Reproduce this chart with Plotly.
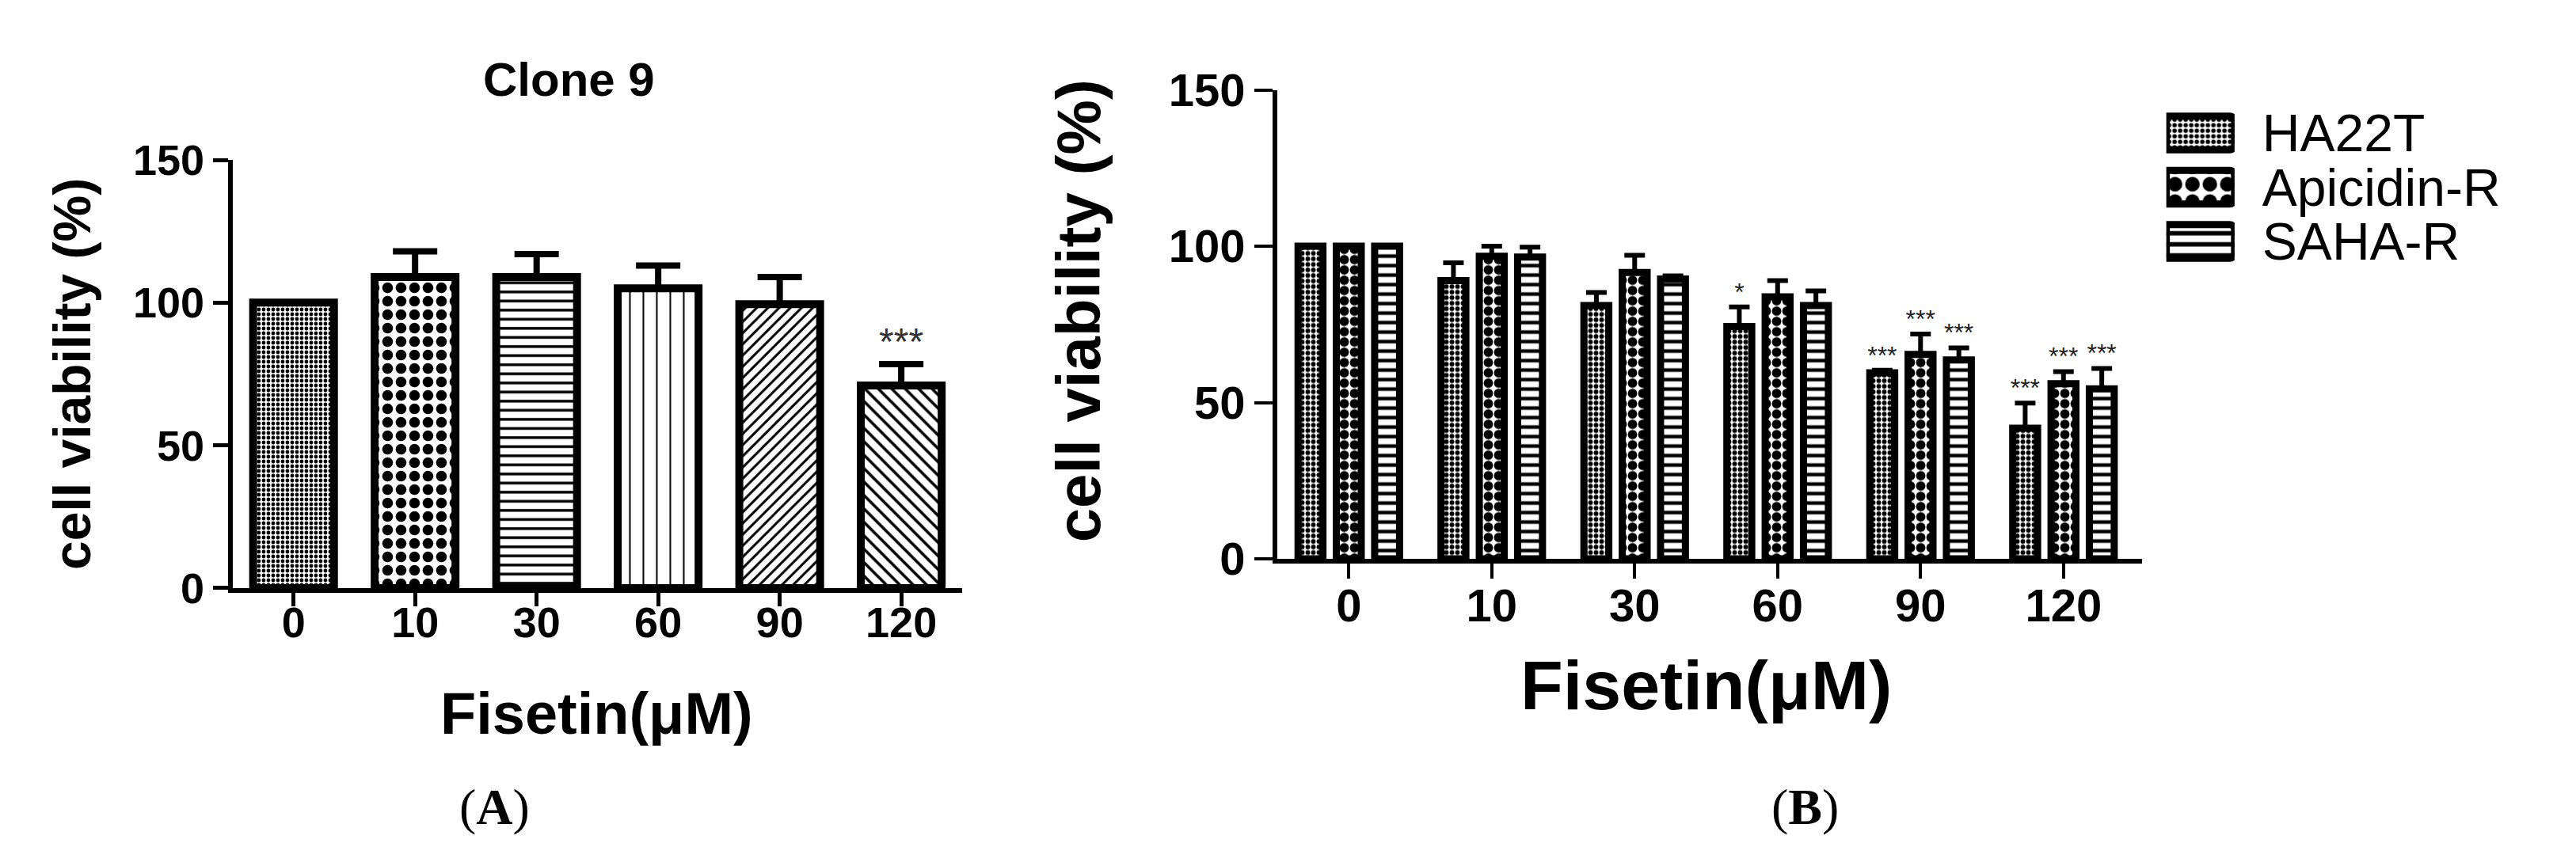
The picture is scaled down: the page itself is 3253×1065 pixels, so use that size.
import plotly.graph_objects as go

doses = ["0", "10", "30", "60", "90", "120"]

# panel A - Clone 9
clone9_mean = [100, 109, 109, 105, 99.5, 71]
clone9_err = [None, 9, 8, 8, 9.5, 7.5]
clone9_sig = ["", "", "", "", "", "***"]

# panel B - HA22T and resistant lines
lines = ["HA22T", "Apicidin-R", "SAHA-R"]
ha22t_mean = [100, 89, 81, 74.3, 59.5, 41.8]
ha22t_err = [None, 5.7, 4.2, 6.3, 0.8, 8]
ha22t_sig = ["", "", "", "*", "***", "***"]
apic_mean = [100, 96.8, 91.6, 83.8, 65.4, 56]
apic_err = [None, 3.2, 5.5, 5.2, 6.5, 3.9]
apic_sig = ["", "", "", "", "***", "***"]
saha_mean = [100, 96.5, 89.5, 81, 63.6, 54.4]
saha_err = [None, 3.2, 1, 4.7, 3.9, 6.5]
saha_sig = ["", "", "", "", "***", "***"]
legend_swatch = [1, 1, 1]

FONT = "Liberation Sans, Arial, sans-serif"


def upper(mean, err):
    return [m + (e or 0) for m, e in zip(mean, err)]


def err_bar(err, thick, cap):
    return dict(type="data", array=err, arrayminus=[0 if e is not None else None for e in err],
                symmetric=False, color="black", thickness=thick, width=cap)


fig = go.Figure()

# ---- panel A
fig.add_trace(go.Bar(
    x=doses, y=clone9_mean, width=0.665, xaxis="x", yaxis="y", showlegend=False,
    marker=dict(color="white", line=dict(color="black", width=10),
                pattern=dict(shape=[".", ".", "-", "|", "/", "\\"],
                             size=[6, 17, 11.5, 17, 10, 12],
                             solidity=[0.5, 0.5, 0.3, 0.12, 0.3, 0.3],
                             fgcolor="black", bgcolor="white", fillmode="replace")),
    error_y=err_bar(clone9_err, 8, 28),
))
fig.add_trace(go.Scatter(
    x=doses, y=upper(clone9_mean, clone9_err), text=clone9_sig, mode="text",
    textposition="top center", xaxis="x", yaxis="y", showlegend=False,
    textfont=dict(family=FONT, size=48, color="#333"),
))

# ---- panel B
styles = [
    (ha22t_mean, ha22t_err, ha22t_sig, ".", 7, 0.55),
    (apic_mean, apic_err, apic_sig, ".", 13, 0.65),
    (saha_mean, saha_err, saha_sig, "-", 12, 0.38),
]
for name, (mean, err, sig, shp, sz, sol) in zip(lines, styles):
    fig.add_trace(go.Bar(
        x=doses, y=mean, name=name, xaxis="x2", yaxis="y2", showlegend=False,
        marker=dict(color="white", line=dict(color="black", width=9),
                    pattern=dict(shape=shp, size=sz, solidity=sol,
                                 fgcolor="black", bgcolor="white", fillmode="replace")),
        error_y=err_bar(err, 6, 13),
    ))
for name, (mean, err, sig, *_) in zip(lines, styles):
    fig.add_trace(go.Scatter(
        x=doses, y=upper(mean, err), text=sig, mode="text", name=name,
        textposition="top center", xaxis="x2", yaxis="y2", showlegend=False,
        textfont=dict(family=FONT, size=32, color="#222"),
    ))

# ---- legend swatches for panel B
fig.add_trace(go.Bar(
    y=lines, x=legend_swatch, orientation="h", width=0.62, xaxis="x3", yaxis="y3",
    showlegend=False,
    marker=dict(color="white", cornerradius=6, line=dict(color="black", width=9),
                pattern=dict(shape=[".", ".", "-"], size=[7, 22, 14],
                             solidity=[0.5, 0.55, 0.4],
                             fgcolor="black", bgcolor="white", fillmode="replace")),
))

tick_font = dict(family=FONT, size=54, color="black", weight="bold")
axis_common = dict(showline=True, linecolor="black", showgrid=False, zeroline=False,
                   ticks="outside", tickcolor="black", fixedrange=True, automargin=False)

fig.update_layout(
    template="none",
    width=3253, height=1065, autosize=False,
    margin=dict(l=0, r=0, t=0, b=0, pad=0),
    paper_bgcolor="white", plot_bgcolor="white", showlegend=False,
    barmode="group", bargap=0.196, bargroupgap=0.35, scattermode="group",
    xaxis=dict(axis_common, domain=[0.0879, 0.3710], range=[-0.5, 5.5], type="category",
               linewidth=6, ticklen=17, tickwidth=5, tickfont=tick_font, anchor="y",
               ticklabelstandoff=-26),
    yaxis=dict(axis_common, domain=[0.3099, 0.8178], range=[0, 150], tickvals=[0, 50, 100, 150],
               linewidth=6, ticklen=19, tickwidth=5, tickfont=tick_font, anchor="x"),
    xaxis2=dict(axis_common, domain=[0.4934, 0.8291], range=[-0.5, 5.55], type="category",
                linewidth=6, ticklen=19, tickwidth=4, tickfont=dict(tick_font, size=58), anchor="y2",
                ticklabelstandoff=-16),
    yaxis2=dict(axis_common, domain=[0.3446, 0.9009], range=[0, 150], tickvals=[0, 50, 100, 150],
                linewidth=6, ticklen=23, tickwidth=4, tickfont=dict(tick_font, size=58), anchor="x2"),
    xaxis3=dict(domain=[0.8385, 0.8650], range=[0, 1], visible=False, anchor="y3",
                fixedrange=True, automargin=False),
    yaxis3=dict(domain=[0.689, 0.882], autorange="reversed", side="right", anchor="x3",
                tickmode="array", tickvals=lines, automargin=False,
                showline=False, showgrid=False, zeroline=False, ticks="", ticklabelstandoff=34,
                tickfont=dict(family=FONT, size=66, color="black"), fixedrange=True),
)

ann = dict(xref="paper", yref="paper", showarrow=False, xanchor="center", yanchor="middle")
bold = dict(family=FONT, color="black", weight="bold")
fig.add_annotation(ann, x=0.2185, y=0.9127, text="Clone 9", font=dict(bold, size=60))
fig.add_annotation(ann, x=0.0255, y=0.5643, text="cell viability (%)", textangle=-90,
                   font=dict(bold, size=66))
fig.add_annotation(ann, x=0.2293, y=0.1615, text="Fisetin(μM)", font=dict(bold, size=74))
fig.add_annotation(ann, x=0.4165, y=0.639, text="cell viability (%)", textangle=-90,
                   font=dict(bold, size=78))
fig.add_annotation(ann, x=0.66, y=0.1953, text="Fisetin(μM)", font=dict(bold, size=88))
serif = dict(family="Liberation Serif, Times New Roman, serif", color="black", size=64)
fig.add_annotation(ann, x=0.1894, y=0.0507, text="(<b>A</b>)", font=serif)
fig.add_annotation(ann, x=0.6984, y=0.0507, text="(<b>B</b>)", font=serif)

fig.write_html("out.html")
